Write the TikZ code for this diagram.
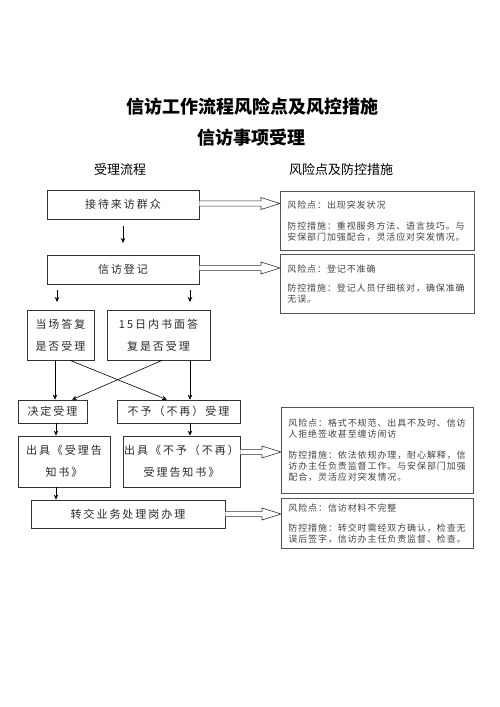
\documentclass[tikz,border=0pt]{standalone}
\usepackage{fontspec}
\usetikzlibrary{calc,arrows.meta}
\newfontfamily\cjk{Noto Sans CJK SC}
\newfontfamily\cjkwide[LetterSpace=18]{Noto Sans CJK SC}
\newfontfamily\cjksmall[LetterSpace=10]{Noto Sans CJK SC}
\definecolor{boxline}{HTML}{333333}
\definecolor{riskline}{HTML}{555555}
\definecolor{txt}{HTML}{2a2a2a}
\definecolor{risktxt}{HTML}{444444}
\tikzset{
  flowbox/.style={draw=boxline, line width=0.7pt, inner sep=0pt, align=center,
    font=\cjkwide\fontsize{11}{22}\selectfont, text=txt},
  riskbox/.style={draw=riskline, line width=0.9pt, anchor=north west, inner xsep=7pt, inner ysep=0pt,
    align=left, font=\cjksmall\fontsize{9}{11}\selectfont, text=risktxt},
  arr/.style={-{Stealth[length=5pt,width=4.5pt]}, line width=0.6pt, black},
  blockarr/.style={draw=boxline, line width=0.6pt, fill=white},
}
\newcommand{\mkbox}[6]{% name, x1,y1,x2,y2, text
  \node[flowbox, minimum width={#4-#2}, minimum height={#5-#3}] (#1) at ({(#2+#4)/2},{(#3+#5)/2}) {#6};}
\newcommand{\mkrisk}[6]{% name, x1,y1,x2,y2, text
  \node[riskbox, minimum width={#4-#2}, minimum height={#5-#3}, text width={#4-#2-14}] (#1) at (#2,#3) {#6};}
\newcommand{\blockarrow}[2]{% start coordinate name, target node
  \path[blockarr] let \p1=(#1), \p2=(#2.west) in
    (\x1,\y1+2.6) -- (\x2-19,\y1+2.6) -- (\x2-19,\y1+6) -- (\x2,\y1) -- (\x2-19,\y1-6)
    -- (\x2-19,\y1-2.6) -- (\x1,\y1-2.6);}
\begin{document}
\begin{tikzpicture}[x=1pt,y=-1pt]
\useasboundingbox (0,0) rectangle (500,707);
\fill[white] (0,0) rectangle (500,707);
% titles
\node[font=\cjk\bfseries\fontsize{18}{18}\selectfont, inner sep=0pt] (t1) at (252,107) {信访工作流程风险点及风控措施};
\node[font=\cjk\bfseries\fontsize{18}{18}\selectfont, inner sep=0pt] (t2) at (251,138) {信访事项受理};
\node[font=\cjk\fontsize{13}{13}\selectfont, inner sep=0pt] (h1) at (120,170) {受理流程};
\node[font=\cjk\fontsize{13}{13}\selectfont, inner sep=0pt] (h2) at (341,170) {风险点及防控措施};
% flow boxes
\mkbox{b1}{47}{190}{199}{219}{接待来访群众}
\mkbox{b2}{47}{255}{199}{284}{信访登记}
\mkbox{b3}{27}{310}{94}{360}{当场答复\\是否受理}
\mkbox{b4}{107}{310}{210}{360}{15日内书面答\\复是否受理}
\mkbox{b5}{18}{400}{87}{423}{决定受理}
\mkbox{b6}{117}{400}{240}{423}{不予（不再）受理}
\mkbox{b7}{18}{436}{110}{487}{出具《受理告\\知书》}
\mkbox{b8}{123}{436}{240}{487}{出具《不予（不再）\\受理告知书》}
\mkbox{b9}{31}{500}{225}{528}{转交业务处理岗办理}
% risk boxes
\mkrisk{r1}{280}{191}{474}{250}{风险点：出现突发状况\\[10pt]防控措施：重视服务方法、语言技巧。与\\安保部门加强配合，灵活应对突发情况。}
\mkrisk{r2}{280}{254}{474}{313}{风险点：登记不准确\\[8pt]防控措施：登记人员仔细核对，确保准确\\无误。}
\mkrisk{r3}{281}{407}{473}{493}{风险点：格式不规范、出具不及时、信访\\人拒绝签收甚至缠访闹访\\[10pt]防控措施：依法依规办理，耐心解释，信\\访办主任负责监督工作。与安保部门加强\\配合，灵活应对突发情况。}
\mkrisk{r4}{281}{498}{473}{548}{风险点：信访材料不完整\\[9pt]防控措施：转交时需经双方确认，检查无\\误后签字，信访办主任负责监督、检查。}
% free arrow ends
\coordinate (a1s) at (123,226);
\coordinate (a1e) at (123,243);
\coordinate (a2s) at (57,290);
\coordinate (a2e) at (57,302);
\coordinate (a3s) at (190,290);
\coordinate (a3e) at (190,302);
\coordinate (x55) at (55,0);
\coordinate (x190) at (190,0);
\coordinate (x70) at (70,0);
\coordinate (x167) at (167,0);
\coordinate (x162) at (162,0);
\coordinate (x72) at (72,0);
\coordinate (x56) at (56,0);
% connectors
\draw[arr] (a1s) -- (a1e);
\draw[arr] (a2s) -- (a2e);
\draw[arr] (a3s) -- (a3e);
\draw[arr] (b3.south -| x55) -- (b5.north -| x55);
\draw[arr] (b4.south -| x190) -- (b6.north -| x190);
\draw[arr] (b3.south -| x70) -- (b6.north -| x167);
\draw[arr] (b4.south -| x162) -- (b5.north -| x72);
\draw[arr] (b5.south -| x56) -- (b7.north -| x56);
\draw[arr] (b6.south -| x190) -- (b8.north -| x190);
\draw[arr] (b7.south -| x56) -- (b9.north -| x56);
% block arrows
\coordinate (ba1) at ([yshift=1pt]b1.east);
\coordinate (ba2) at ([yshift=1.5pt]b2.east);
\coordinate (ba3) at ([yshift=9.5pt]b8.east);
\coordinate (ba4) at (b9.east);
\blockarrow{ba1}{r1}
\blockarrow{ba2}{r2}
\blockarrow{ba3}{r3}
\blockarrow{ba4}{r4}
\end{tikzpicture}
\end{document}
